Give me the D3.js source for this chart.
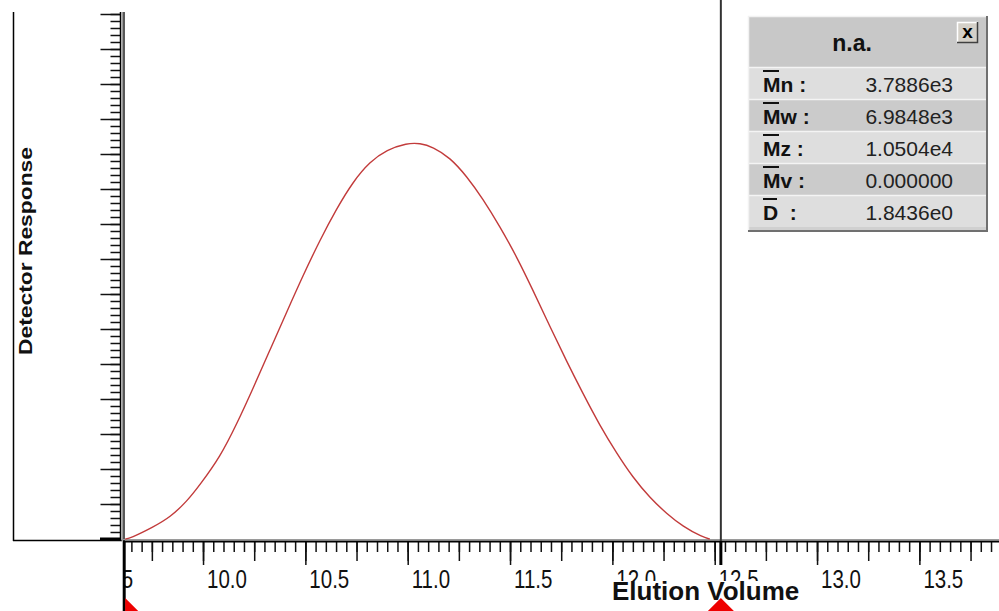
<!DOCTYPE html>
<html>
<head>
<meta charset="utf-8">
<script src="https://cdn.jsdelivr.net/npm/d3@7"></script>
<style>
  body { margin: 0; background: #ffffff; }
  svg { display: block; }
  text { font-family: "Liberation Sans", Arial, sans-serif; }
</style>
</head>
<body>
<div class="chart-container"></div>
<script>
// Data
const elutionVolume = [9.62, 9.644, 9.756, 9.839, 9.922, 9.985, 10.083, 10.166, 10.244, 10.327, 10.41,
  10.488, 10.571, 10.654, 10.732, 10.815, 10.898, 10.996, 11.06, 11.123, 11.206, 11.289, 11.367,
  11.45, 11.533, 11.611, 11.694, 11.777, 11.855, 11.938, 12.021, 12.1, 12.183, 12.266, 12.344,
  12.441, 12.476];
const detectorResponse = [0.0, 0.02, 0.34, 0.62, 1.08, 1.55, 2.34, 3.3, 4.3, 5.4, 6.5,
  7.52, 8.54, 9.45, 10.2, 10.78, 11.12, 11.31, 11.31, 11.2, 10.9, 10.36, 9.72,
  8.93, 8.06, 7.12, 6.08, 5.07, 4.17, 3.25, 2.45, 1.76, 1.18, 0.72, 0.36,
  0.05, 0.0];

// Axis tick labels and integration markers
const xTickLabels = ["9.5", "10.0", "10.5", "11.0", "11.5", "12.0", "12.5", "13.0", "13.5"];
const markerStart = 9.61;
const markerEnd = 12.53;

// Result table
const tableTitle = "n.a.";
const statLabels = ["Mn", "Mw", "Mz", "Mv", "D"];
const statSeparators = [" :", " :", " :", " :", "  :"];
const statValues = ["3.7886e3", "6.9848e3", "1.0504e4", "0.000000", "1.8436e0"];

const width = 999;
const height = 611;

const svg = d3
  .select(".chart-container")
  .append("svg")
  .attr("width", width)
  .attr("height", height);

// Scales
const x = d3.scaleLinear().domain([9.609, 13.889]).range([123, 999]);
const y = d3.scaleLinear().domain([0, 15]).range([539, 14]);
const axisY = 541;

//////// Y axis box and ruler
svg.append("line")
  .attr("x1", 13.5).attr("x2", 13.5).attr("y1", 12).attr("y2", axisY)
  .attr("stroke", "#000").attr("stroke-width", 1.5);
svg.append("line")
  .attr("x1", 13).attr("x2", 122).attr("y1", axisY - 0.5).attr("y2", axisY - 0.5)
  .attr("stroke", "#000").attr("stroke-width", 1.5);

const yMinor = d3.axisLeft(y)
  .tickValues(d3.range(0, 15.01, 0.2))
  .tickSize(10)
  .tickFormat("");
const yMajor = d3.axisLeft(y)
  .tickValues(d3.range(0, 16, 1))
  .tickSize(20)
  .tickFormat("");

[yMinor, yMajor].forEach((ax) => {
  const g = svg.append("g")
    .attr("transform", "translate(120.5,0)")
    .call(ax);
  g.select(".domain").remove();
  g.selectAll("line").attr("stroke", "#111").attr("stroke-width", 1.5);
});
// thicker zero tick
svg.append("line")
  .attr("x1", 100).attr("x2", 121).attr("y1", y(0)).attr("y2", y(0))
  .attr("stroke", "#000").attr("stroke-width", 3);

// double rule of the y axis
svg.append("line").attr("x1", 120.5).attr("x2", 120.5).attr("y1", 12).attr("y2", axisY)
  .attr("stroke", "#000").attr("stroke-width", 1.5);
svg.append("line").attr("x1", 122.3).attr("x2", 122.3).attr("y1", 12).attr("y2", axisY)
  .attr("stroke", "#9a9a9a").attr("stroke-width", 1.5);
svg.append("line").attr("x1", 124).attr("x2", 124).attr("y1", 12).attr("y2", axisY)
  .attr("stroke", "#000").attr("stroke-width", 1.3);

//////// X axis
svg.append("defs").append("clipPath")
  .attr("id", "xclip")
  .append("rect")
  .attr("x", 125).attr("y", 530).attr("width", 880).attr("height", 90);

const xTicks = svg.append("g").attr("clip-path", "url(#xclip)");

const tickSets = [
  { values: d3.range(9.5, 13.951, 0.05), size: 11 },
  { values: d3.range(9.5, 13.951, 0.25), size: 20 },
  { values: d3.range(9.5, 13.951, 0.5), size: 24 },
];
tickSets.forEach((t) => {
  const g = xTicks.append("g")
    .attr("transform", `translate(0,${axisY})`)
    .call(d3.axisBottom(x).tickValues(t.values).tickSize(t.size).tickFormat(""));
  g.select(".domain").remove();
  g.selectAll("line").attr("stroke", "#111").attr("stroke-width", 1.5);
});

svg.append("line").attr("x1", 123).attr("x2", 999).attr("y1", axisY - 1.5).attr("y2", axisY - 1.5)
  .attr("stroke", "#9a9a9a").attr("stroke-width", 1.2);
svg.append("line").attr("x1", 123).attr("x2", 999).attr("y1", axisY + 0.5).attr("y2", axisY + 0.5)
  .attr("stroke", "#000").attr("stroke-width", 2);

// tick labels, left aligned just right of their tick
xTicks.selectAll(".xlabel")
  .data(xTickLabels)
  .enter()
  .append("text")
  .attr("class", "xlabel")
  .attr("x", (d) => x(+d) + 4)
  .attr("y", 588)
  .style("font-size", "25px")
  .attr("fill", "#111")
  .text((d) => d)
  .each(function () {
    const len = this.getComputedTextLength();
    d3.select(this).attr("textLength", len * 0.82).attr("lengthAdjust", "spacingAndGlyphs");
  });

//////// Curve
const points = elutionVolume.map((v, i) => [v, detectorResponse[i]]);
const line = d3.line()
  .x((d) => x(d[0]))
  .y((d) => y(d[1]))
  .curve(d3.curveBasis);

svg.append("path")
  .datum(points)
  .attr("d", line)
  .attr("fill", "none")
  .attr("stroke", "#c23b3b")
  .attr("stroke-width", 1.4);

//////// Cursor / marker lines
svg.append("line")
  .attr("x1", x(markerEnd)).attr("x2", x(markerEnd)).attr("y1", 0).attr("y2", axisY)
  .attr("stroke", "#333").attr("stroke-width", 2);
svg.append("line")
  .attr("x1", x(markerEnd)).attr("x2", x(markerEnd)).attr("y1", axisY).attr("y2", 565)
  .attr("stroke", "#000").attr("stroke-width", 3);
svg.append("line")
  .attr("x1", x(markerStart) + 1).attr("x2", x(markerStart) + 1).attr("y1", axisY).attr("y2", height)
  .attr("stroke", "#000").attr("stroke-width", 3);

// axis title with its own white background
const xTitleX = 612;
svg.append("rect")
  .attr("x", xTitleX - 2).attr("y", 581).attr("width", 194).attr("height", 25)
  .attr("fill", "#fff");
svg.append("text")
  .attr("x", xTitleX)
  .attr("y", 600)
  .attr("font-weight", "bold")
  .style("font-size", "26px")
  .attr("fill", "#111")
  .text("Elution Volume");

// red markers
const m = 14;
const cy = 612;
const x0 = x(markerStart) + 2;
svg.append("path")
  .attr("d", `M${x0},${cy - m}L${x0 + m},${cy}L${x0},${cy + m}Z`)
  .attr("fill", "#ee0000");
const x1 = x(markerEnd);
svg.append("path")
  .attr("d", `M${x1},${cy - m}L${x1 + m},${cy}L${x1},${cy + m}L${x1 - m},${cy}Z`)
  .attr("fill", "#ee0000");

// y axis title
svg.append("text")
  .attr("transform", "translate(32,251) rotate(-90)")
  .attr("text-anchor", "middle")
  .attr("font-weight", "bold")
  .style("font-size", "19px")
  .attr("fill", "#111")
  .text("Detector Response")
  .attr("textLength", 208)
  .attr("lengthAdjust", "spacingAndGlyphs");

//////// Results table
const tx = 748;
const ty = 16;
const tw = 240;
const titleH = 51;
const rowH = 32;
const tH = titleH + rowH * statLabels.length + 5;

const table = svg.append("g").attr("transform", `translate(${tx},${ty})`);
table.append("rect")
  .attr("width", tw).attr("height", tH)
  .attr("fill", "#d0d0d0");
table.append("rect")
  .attr("x", 1).attr("y", 1).attr("width", tw - 3).attr("height", titleH - 1)
  .attr("fill", "#c8c8c8");

const rows = table.selectAll(".row")
  .data(statLabels)
  .enter()
  .append("g")
  .attr("class", "row")
  .attr("transform", (d, i) => `translate(0,${titleH + i * rowH})`);

rows.append("rect")
  .attr("x", 1).attr("y", 1).attr("width", tw - 3).attr("height", rowH - 1)
  .attr("fill", (d, i) => (i % 2 === 0 ? "#dedede" : "#cbcbcb"));
rows.append("line")
  .attr("x1", 1).attr("x2", tw - 2).attr("y1", 0.5).attr("y2", 0.5)
  .attr("stroke", "#f4f4f4").attr("stroke-width", 1.5);

rows.append("text")
  .attr("x", 15)
  .attr("y", 25)
  .attr("font-weight", "bold")
  .style("font-size", "21px")
  .attr("fill", "#111")
  .attr("xml:space", "preserve")
  .text((d, i) => d + statSeparators[i]);

// bars over the average symbols
rows.append("line")
  .attr("x1", 15).attr("x2", (d) => (d === "D" ? 29 : 31))
  .attr("y1", 4).attr("y2", 4)
  .attr("stroke", "#111").attr("stroke-width", 2);

rows.append("text")
  .attr("x", 205)
  .attr("y", 25)
  .attr("text-anchor", "end")
  .style("font-size", "21px")
  .attr("fill", "#222")
  .text((d, i) => statValues[i]);

table.append("text")
  .attr("x", 104)
  .attr("y", 35)
  .attr("text-anchor", "middle")
  .attr("font-weight", "bold")
  .style("font-size", "23px")
  .attr("fill", "#111")
  .text(tableTitle);

// 3D border
table.append("path")
  .attr("d", `M0.5,${tH}V0.5H${tw}`)
  .attr("fill", "none").attr("stroke", "#f2f2f2").attr("stroke-width", 1.5);
table.append("path")
  .attr("d", `M0,${tH - 1}H${tw - 1}V0`)
  .attr("fill", "none").attr("stroke", "#707070").attr("stroke-width", 2);

// close button
const btn = table.append("g").attr("transform", "translate(209,6)");
btn.append("rect").attr("width", 21).attr("height", 21).attr("fill", "#d4d0c8");
btn.append("path").attr("d", "M0.5,21V0.5H21").attr("fill", "none").attr("stroke", "#fff").attr("stroke-width", 1.5);
btn.append("path").attr("d", "M0,20.5H20.5V0").attr("fill", "none").attr("stroke", "#404040").attr("stroke-width", 1.5);
btn.append("text")
  .attr("x", 10.5).attr("y", 16)
  .attr("text-anchor", "middle")
  .attr("font-weight", "bold")
  .style("font-size", "19px")
  .attr("fill", "#000")
  .text("x");
</script>
</body>
</html>
